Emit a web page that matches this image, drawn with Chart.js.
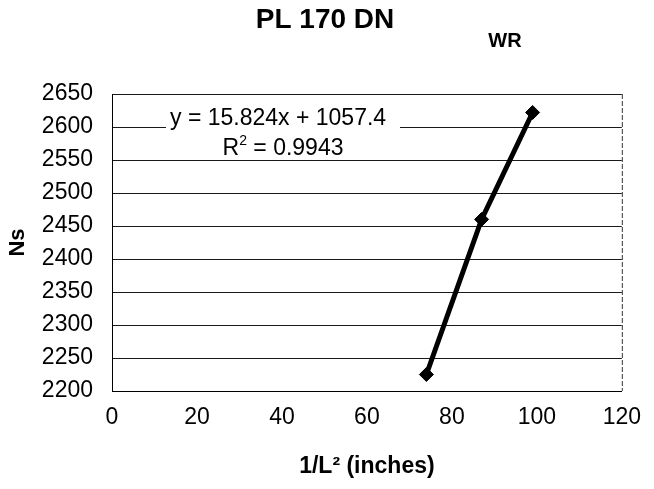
<!DOCTYPE html>
<html>
<head>
<meta charset="utf-8">
<script src="https://cdn.jsdelivr.net/npm/chart.js@4.4.1/dist/chart.umd.min.js"></script>
<style>
  html, body { margin: 0; padding: 0; background: #fff; }
  #wrap { width: 654px; height: 489px; }
</style>
</head>
<body>
<div id="wrap"><canvas id="nsChart" width="654" height="489"></canvas></div>
<script>
// values
const invLengthSq = [74, 87, 99]
const nsValues = [2225, 2460, 2622]
const xTicks = [0, 20, 40, 60, 80, 100, 120]
const yTicks = [2200, 2250, 2300, 2350, 2400, 2450, 2500, 2550, 2600, 2650]

const chartTitle = "PL 170 DN"
const subTitle = "WR"
const eqLine = "y = 15.824x + 1057.4"
const r2Label = "0.9943"

const fam = "'Liberation Sans', Arial, sans-serif"

// title, WR tag and the trendline label
const textPlugin = {
    id: "texts",
    beforeDatasetsDraw(chart){
        let ctx = chart.ctx
        let area = chart.chartArea
        ctx.save()
        // white label box like excel's trendline label
        ctx.fillStyle = "#fff"
        ctx.fillRect(166, 104, 234, 51)
        // right edge of the plot area
        ctx.strokeStyle = "#333"
        ctx.lineWidth = 1
        ctx.setLineDash([5, 2])
        ctx.beginPath()
        ctx.moveTo(area.right + 0.5, area.top)
        ctx.lineTo(area.right + 0.5, area.bottom)
        ctx.stroke()
        ctx.restore()
    },
    afterDraw(chart){
        let ctx = chart.ctx
        ctx.save()
        ctx.fillStyle = "#000"
        ctx.textBaseline = "middle"
        ctx.textAlign = "center"

        ctx.font = "bold 28px " + fam
        ctx.fillText(chartTitle, 325, 20)

        ctx.font = "bold 20px " + fam
        ctx.fillText(subTitle, 505, 41)

        ctx.font = "23px " + fam
        ctx.textAlign = "left"
        ctx.fillText(eqLine, 170, 119)

        // R² = ... with superscript
        let base = "R"
        let rest = " = " + r2Label
        ctx.font = "23px " + fam
        let w1 = ctx.measureText(base).width
        ctx.font = "14px " + fam
        let w2 = ctx.measureText("2").width
        ctx.font = "23px " + fam
        let w3 = ctx.measureText(rest).width
        let sx = 283 - (w1 + w2 + w3) / 2
        ctx.fillText(base, sx, 149)
        ctx.font = "14px " + fam
        ctx.fillText("2", sx + w1, 141)
        ctx.font = "23px " + fam
        ctx.fillText(rest, sx + w1 + w2, 149)
        ctx.restore()
    }
}

let points = []
for (let i = 0; i < invLengthSq.length; i++){
    points.push({x: invLengthSq[i], y: nsValues[i]})
}

let canv = document.getElementById("nsChart")
let myChart = new Chart(canv, {
    type: 'line',
    data: {
        datasets: [{
            data: points,
            borderColor: '#000',
            backgroundColor: '#000',
            borderWidth: 5,
            pointStyle: 'rectRot',
            pointRadius: 7,
            pointBorderWidth: 1,
            tension: 0
        }]
    },
    options: {
        responsive: false,
        animation: false,
        events: [],
        layout: {
            padding: {top: 94, right: 22, left: 0, bottom: 0}
        },
        plugins: {
            legend: {display: false},
            title: {display: false},
            tooltip: {enabled: false}
        },
        scales: {
            x: {
                type: 'linear',
                min: xTicks[0],
                max: xTicks[xTicks.length - 1],
                afterBuildTicks: (scale) => { scale.ticks = xTicks.map(v => ({value: v})) },
                afterFit: (scale) => { scale.height = 98 },
                grid: {display: false, drawTicks: false},
                border: {display: true, color: '#000', width: 1},
                ticks: {
                    color: '#000',
                    padding: 13,
                    maxRotation: 0,
                    font: {family: fam, size: 23},
                    callback: (v) => String(v)
                },
                title: {
                    display: true,
                    text: "1/L\u00b2 (inches)",
                    color: '#000',
                    padding: {top: 0, bottom: 9},
                    font: {family: fam, size: 23, weight: 'bold'}
                }
            },
            y: {
                min: yTicks[0],
                max: yTicks[yTicks.length - 1],
                afterBuildTicks: (scale) => { scale.ticks = yTicks.map(v => ({value: v})) },
                afterFit: (scale) => { scale.width = 112 },
                grid: {color: '#1a1a1a', lineWidth: 1, drawTicks: false},
                border: {display: true, color: '#000', width: 1},
                ticks: {
                    color: '#000',
                    padding: 19,
                    font: {family: fam, size: 23},
                    callback: (v) => String(v)
                },
                title: {
                    display: true,
                    text: "Ns",
                    color: '#000',
                    padding: {top: 5, bottom: 0},
                    font: {family: fam, size: 22, weight: 'bold'}
                }
            }
        }
    },
    plugins: [textPlugin]
})
</script>
</body>
</html>
